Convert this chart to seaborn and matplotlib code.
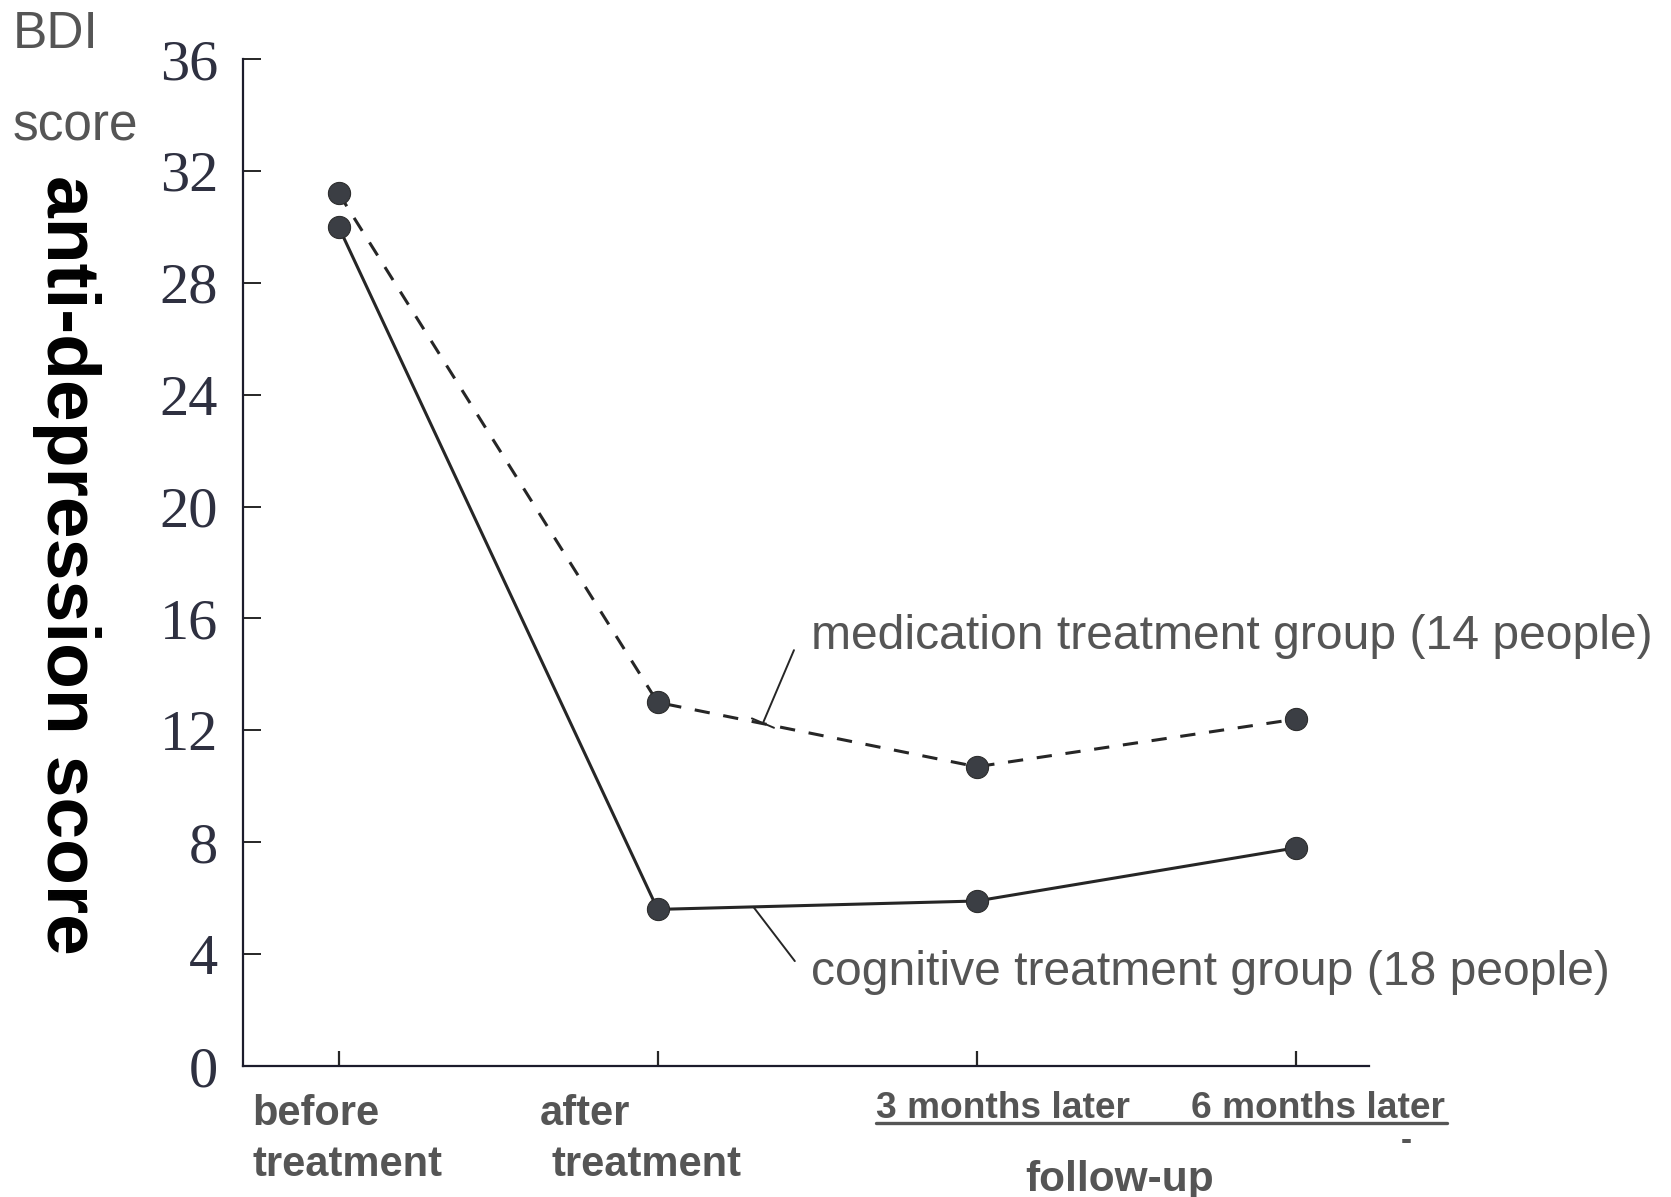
import pandas as pd
import seaborn as sns
import matplotlib.pyplot as plt
import matplotlib.transforms as mtransforms

stages = ["before treatment", "after treatment", "3 months later", "6 months later"]
medication = [31.2, 13.0, 10.7, 12.4]
cognitive = [30.0, 5.6, 5.9, 7.8]
y_ticks = [0, 4, 8, 12, 16, 20, 24, 28, 32, 36]
y_tick_labels = ["0", "4", "8", "12", "16", "20", "24", "28", "32", "36"]

pos = list(range(len(stages)))
df = pd.DataFrame({
    "pos": pos * 2,
    "score": medication + cognitive,
    "group": ["medication"] * len(pos) + ["cognitive"] * len(pos),
})

sns.set_style("white")
plt.rcParams["font.family"] = ["Liberation Sans", "DejaVu Sans"]

fig = plt.figure(figsize=(16.71, 11.97), dpi=100)
ax = fig.add_axes([0.1454, 0.1094, 0.6739, 0.8413])

line_col = "#262626"
sns.lineplot(data=df, x="pos", y="score", style="group",
             dashes={"medication": (5, 4.5), "cognitive": ""},
             color=line_col, linewidth=2.2, marker="o", markersize=16,
             markerfacecolor="#3b3e44", markeredgecolor="#2a2a2a",
             legend=False, ax=ax)

ax.set_xlim(-0.30, 3.23)
ax.set_ylim(0, 36)
ax.set_xlabel("")
ax.set_ylabel("")
sns.despine(ax=ax, top=True, right=True)
for s in ["left", "bottom"]:
    ax.spines[s].set_color("#1c1c2c")
    ax.spines[s].set_linewidth(1.6)

ax.set_yticks(y_ticks)
ax.set_yticklabels(y_tick_labels, family="Liberation Serif", fontsize=42, color="#2e3040")
ax.tick_params(axis="y", direction="in", length=13, width=1.4, pad=18, left=True)
ax.set_xticks(pos)
ax.set_xticklabels([])
ax.tick_params(axis="x", direction="in", length=11, width=1.6, bottom=True)

# category labels under the axis
tr = mtransforms.blended_transform_factory(ax.transData, ax.transAxes)
lab_col = "#555555"
ax.text(-0.27, -0.048, "before", transform=tr, fontsize=30, weight="bold",
        color=lab_col, ha="left", va="center")
ax.text(-0.27, -0.098, "treatment", transform=tr, fontsize=30, weight="bold",
        color=lab_col, ha="left", va="center")
ax.text(0.63, -0.048, "after", transform=tr, fontsize=30, weight="bold",
        color=lab_col, ha="left", va="center")
ax.text(0.668, -0.098, "treatment", transform=tr, fontsize=30, weight="bold",
        color=lab_col, ha="left", va="center")
ax.text(1.683, -0.042, stages[2], transform=tr, fontsize=26.7, weight="bold",
        color=lab_col, ha="left", va="center")
ax.text(2.671, -0.042, stages[3], transform=tr, fontsize=26.7, weight="bold",
        color=lab_col, ha="left", va="center")
ax.plot([1.683, 3.473], [-0.0565, -0.0565], transform=tr, color=lab_col,
        linewidth=2.4, clip_on=False)
ax.text(3.348, -0.0745, "-", transform=tr, fontsize=24, weight="bold",
        color=lab_col, ha="center", va="center")
ax.text(2.448, -0.113, "follow-up", transform=tr, fontsize=30.5, weight="bold",
        color=lab_col, ha="center", va="center")

# group annotations with leader lines
ax.annotate("medication treatment group (14 people)", xy=(1.33, 12.26),
            xytext=(1.48, 15.35), fontsize=34.6, color=lab_col, va="center",
            arrowprops=dict(arrowstyle="-[, widthB=0.25, lengthB=0", color=line_col,
                            linewidth=1.4, shrinkA=0, shrinkB=0,
                            connectionstyle="arc3", relpos=(-0.02, 0.2)))
ax.annotate("cognitive treatment group (18 people)", xy=(1.30, 5.69),
            xytext=(1.48, 3.35), fontsize=34.6, color=lab_col, va="center",
            arrowprops=dict(arrowstyle="-", color=line_col, linewidth=1.4,
                            shrinkA=0, shrinkB=0, relpos=(-0.02, 0.75)))

# axis titles
fig.text(0.0078, 0.971, "BDI", fontsize=37, color=lab_col, ha="left", va="center")
fig.text(0.0078, 0.894, "score", fontsize=37, color=lab_col, ha="left", va="center")
fig.text(0.0395, 0.528, "anti-depression score", fontsize=54, weight="bold",
         color="black", rotation=-90, ha="center", va="center")

fig.savefig("out.png", dpi=100)
